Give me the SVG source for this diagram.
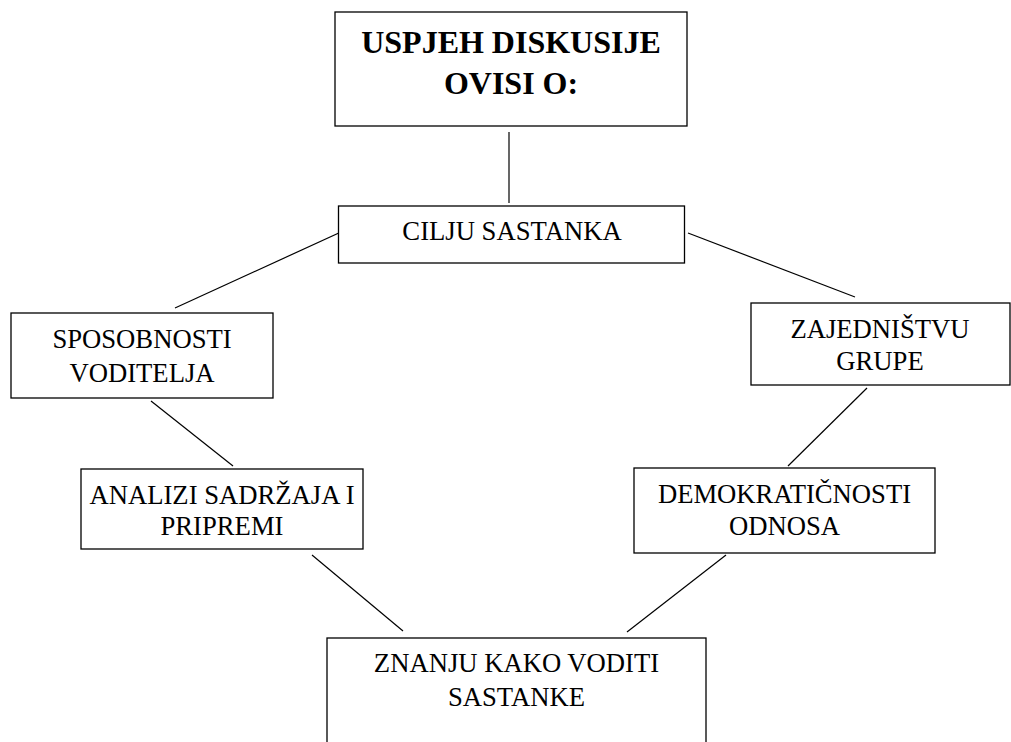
<svg xmlns="http://www.w3.org/2000/svg" width="1011" height="742" viewBox="0 0 1011 742">
<style>
.box{fill:#fff;stroke:#000;stroke-width:1.3}
.t{font-family:"Liberation Serif","Times New Roman",serif;font-size:26.67px;fill:#000;text-anchor:middle}
.b{font-weight:bold;font-size:32px}
.c line{stroke:#000;stroke-width:1.2}
</style>
<rect width="1011" height="742" fill="#fff"/>
<g class="c" id="connectors">
<line x1="509" y1="132" x2="509" y2="203"/>
<line x1="341" y1="232" x2="175" y2="308"/>
<line x1="688" y1="233" x2="855" y2="297"/>
<line x1="151" y1="401" x2="233" y2="466"/>
<line x1="867" y1="388" x2="788" y2="466"/>
<line x1="312" y1="555" x2="403" y2="631"/>
<line x1="726" y1="555" x2="627" y2="632"/>
</g>
<g id="n-top">
<rect class="box" x="335" y="12" width="352" height="114"/>
<text class="t b" x="511" y="53">USPJEH DISKUSIJE</text>
<text class="t b" x="511" y="94">OVISI O:</text>
</g>
<g id="n-cilju">
<rect class="box" x="338.5" y="206" width="346" height="57"/>
<text class="t" x="512" y="240">CILJU SASTANKA</text>
</g>
<g id="n-sposobnosti">
<rect class="box" x="11" y="313" width="262" height="85"/>
<text class="t" x="142" y="348">SPOSOBNOSTI</text>
<text class="t" x="142" y="382">VODITELJA</text>
</g>
<g id="n-zajednistvu">
<rect class="box" x="751" y="303" width="259" height="82"/>
<text class="t" x="880" y="338">ZAJEDNIŠTVU</text>
<text class="t" x="880" y="370">GRUPE</text>
</g>
<g id="n-analizi">
<rect class="box" x="81" y="469" width="282" height="80"/>
<text class="t" x="222" y="504">ANALIZI SADRŽAJA I</text>
<text class="t" x="222" y="535">PRIPREMI</text>
</g>
<g id="n-demokraticnosti">
<rect class="box" x="634" y="468" width="301" height="85"/>
<text class="t" x="784.5" y="503">DEMOKRATIČNOSTI</text>
<text class="t" x="784.5" y="535">ODNOSA</text>
</g>
<g id="n-znanju">
<rect class="box" x="327" y="638" width="379" height="130"/>
<text class="t" x="516.5" y="672">ZNANJU KAKO VODITI</text>
<text class="t" x="516.5" y="706">SASTANKE</text>
</g>
</svg>
